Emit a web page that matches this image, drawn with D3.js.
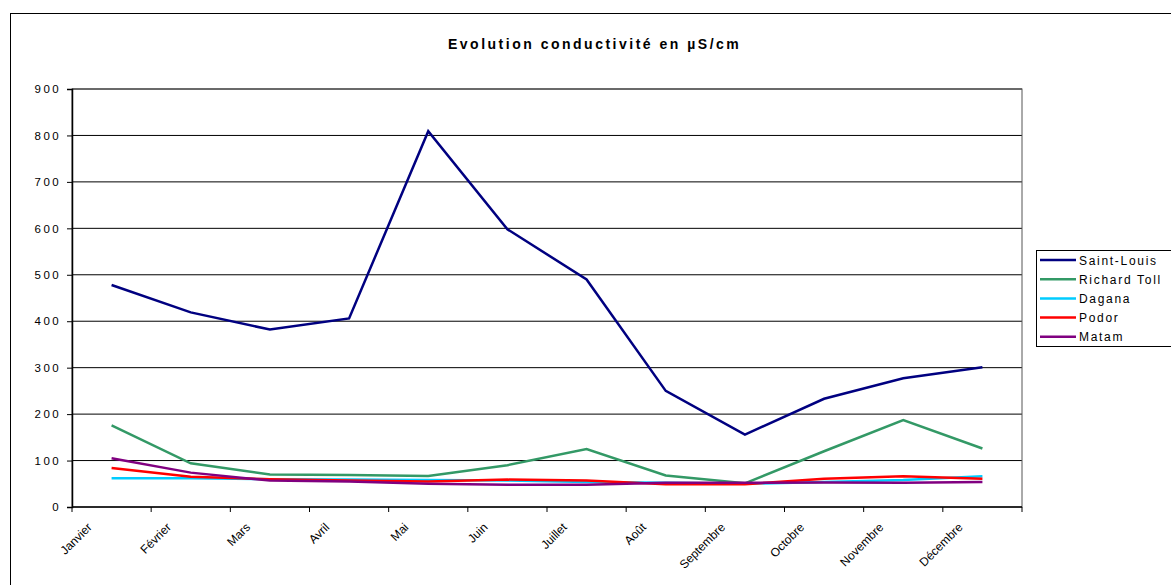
<!DOCTYPE html>
<html>
<head>
<meta charset="utf-8">
<script src="https://cdn.jsdelivr.net/npm/d3@7"></script>
<style>
  html, body { margin: 0; padding: 0; background: #fff; }
  svg { display: block; font-family: "Liberation Sans", Arial, sans-serif; }
</style>
</head>
<body>
<svg id="chart" width="1171" height="585"></svg>
<script>
// Monthly conductivity (µS/cm) per station
const months = ["Janvier", "Février", "Mars", "Avril", "Mai", "Juin", "Juillet", "Août", "Septembre", "Octobre", "Novembre", "Décembre"];
const stations = ["Saint-Louis", "Richard Toll", "Dagana", "Podor", "Matam"];
const saintLouis  = [478, 419, 382, 406, 809, 598, 490, 250, 156, 233, 277, 301];
const richardToll = [176, 94, 70, 69, 67, 90, 125, 68, 51, 120, 187, 126];
const dagana      = [62, 62, 60, 59, 58, 57, 54, 52, 50, 54, 58, 66];
const podor       = [84, 65, 60, 57, 55, 59, 57, 49, 49, 61, 66, 61];
const matam       = [105, 74, 57, 55, 50, 48, 48, 52, 52, 53, 52, 54];
const yTicks = [0, 100, 200, 300, 400, 500, 600, 700, 800, 900];
const colors = ["#000080", "#339966", "#00CCFF", "#FF0000", "#800080"];

const seriesValues = [saintLouis, richardToll, dagana, podor, matam];
const series = stations.map((name, i) => ({ name, values: seriesValues[i], color: colors[i] }));

const svg = d3.select("#chart");

// Outer chart frame
svg.append("rect")
  .attr("x", 10.5).attr("y", 13.5)
  .attr("width", 1300).attr("height", 700)
  .attr("fill", "none").attr("stroke", "#000").attr("stroke-width", 1);

const plot = { left: 72, top: 89, right: 1022, bottom: 507 };

const x = d3.scaleBand().domain(months).range([plot.left, plot.right]).paddingInner(0).paddingOuter(0);
const y = d3.scaleLinear().domain([0, 900]).range([plot.bottom, plot.top]);

// Title
svg.append("text")
  .attr("x", 448).attr("y", 49)
  .attr("text-anchor", "start")
  .attr("font-size", 14).attr("font-weight", "bold")
  .attr("letter-spacing", "2.5px")
  .text("Evolution conductivité en µS/cm");

// Horizontal gridlines
svg.append("g")
  .selectAll("line")
  .data(yTicks.filter(t => t > 0))
  .join("line")
  .attr("x1", plot.left).attr("x2", plot.right)
  .attr("y1", d => y(d)).attr("y2", d => y(d))
  .attr("stroke", "#000").attr("stroke-width", 1);

// Plot-area border
svg.append("rect")
  .attr("x", plot.left).attr("y", plot.top)
  .attr("width", plot.right - plot.left).attr("height", plot.bottom - plot.top)
  .attr("fill", "none").attr("stroke", "#555").attr("stroke-width", 1);

// Y axis
const yAxis = svg.append("g")
  .attr("transform", `translate(${plot.left},0)`)
  .call(d3.axisLeft(y).tickValues(yTicks).tickSize(5).tickPadding(6).tickFormat(d3.format("d")));
yAxis.select(".domain").attr("stroke", "#000").attr("stroke-width", 1.5);
yAxis.selectAll(".tick line").attr("stroke", "#000");
yAxis.selectAll("text")
  .attr("font-size", 11.5).attr("fill", "#000")
  .attr("letter-spacing", "2.4px")
  .attr("font-family", "Liberation Sans, Arial, sans-serif");

// X axis: ticks between categories
const xg = svg.append("g").attr("transform", `translate(0,${plot.bottom})`);
xg.append("line")
  .attr("x1", plot.left).attr("x2", plot.right)
  .attr("stroke", "#000").attr("stroke-width", 1.5);
const boundaries = months.map(m => x(m)).concat([x(months[months.length - 1]) + x.bandwidth()]);
xg.selectAll("line.tick")
  .data(boundaries)
  .join("line")
  .attr("class", "tick")
  .attr("x1", d => d).attr("x2", d => d)
  .attr("y1", 0).attr("y2", 5)
  .attr("stroke", "#000").attr("stroke-width", 1);
xg.selectAll("text")
  .data(months)
  .join("text")
  .attr("transform", d => `translate(${x(d) + x.bandwidth() / 2 - 19},${21}) rotate(-45)`)
  .attr("text-anchor", "end")
  .attr("font-size", 12)
  .attr("fill", "#000")
  .text(d => d);

// Series lines
const line = d3.line()
  .x((d, i) => x(months[i]) + x.bandwidth() / 2)
  .y(d => y(d));

svg.append("g")
  .selectAll("path")
  .data(series)
  .join("path")
  .attr("d", d => line(d.values))
  .attr("fill", "none")
  .attr("stroke", d => d.color)
  .attr("stroke-width", 2.5)
  .attr("stroke-linejoin", "miter");

// Legend
const legend = svg.append("g");
legend.append("rect")
  .attr("x", 1036.5).attr("y", 250.5)
  .attr("width", 160).attr("height", 96)
  .attr("fill", "#fff").attr("stroke", "#000").attr("stroke-width", 1);
const items = legend.selectAll("g.item")
  .data(series)
  .join("g")
  .attr("class", "item")
  .attr("transform", (d, i) => `translate(0,${260 + i * 19.2})`);
items.append("line")
  .attr("x1", 1040).attr("x2", 1076)
  .attr("stroke", d => d.color).attr("stroke-width", 2.5);
items.append("text")
  .attr("x", 1079).attr("y", 4.5)
  .attr("font-size", 12)
  .attr("letter-spacing", "1.7px")
  .attr("fill", "#000")
  .text(d => d.name);
</script>
</body>
</html>
